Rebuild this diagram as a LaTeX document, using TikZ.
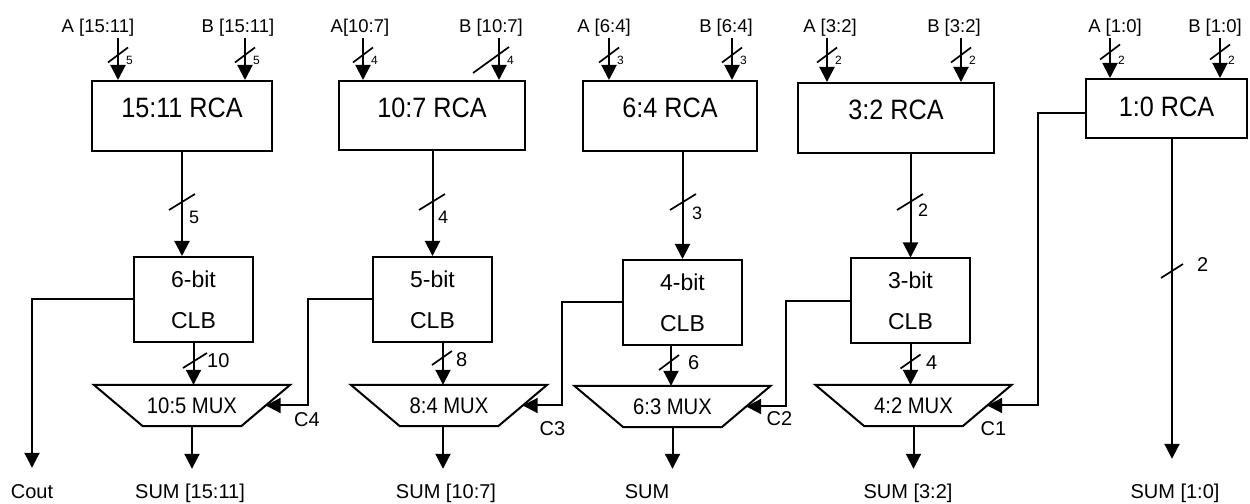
\documentclass[tikz,border=0pt]{standalone}
\usepackage{fontspec}
\setmainfont{Liberation Sans}
\newfontfamily\narrowfont{Liberation Sans}[FakeStretch=0.9]
\usetikzlibrary{arrows.meta, calc, positioning}

\tikzset{
  wire/.style={line width=2bp},
  arr/.style={wire, -{Triangle[length=15bp, width=15bp]}},
  rcabox/.style={draw, line width=2bp, inner sep=0pt, text height=20bp, text depth=16bp,
                 font=\narrowfont\fontsize{28bp}{30bp}\selectfont},
  clbbox/.style={draw, line width=2bp, inner sep=0pt, align=center,
                 minimum width=119bp, minimum height=85bp,
                 font=\fontsize{23bp}{41bp}\selectfont},
  muxbody/.style={inner sep=0pt, minimum width=98bp, minimum height=41bp,
                  font=\narrowfont\fontsize{22.5bp}{24bp}\selectfont},
  lbl/.style={inner sep=0pt, text height=14bp, text depth=4bp,
              font=\fontsize{20bp}{22bp}\selectfont},
  toplbl/.style={inner sep=0pt, font=\fontsize{18.5bp}{20bp}\selectfont},
  tinylbl/.style={inner sep=0pt, anchor=west, font=\fontsize{12bp}{13bp}\selectfont},
  buslbl/.style={inner sep=0pt, anchor=west, font=\fontsize{18bp}{20bp}\selectfont},
  widelbl/.style={inner sep=0pt, anchor=west, font=\fontsize{20bp}{22bp}\selectfont},
}

\begin{document}
\begin{tikzpicture}[x=1bp, y=-1bp]
  \useasboundingbox (0,0) rectangle (1250,504);

  % Ripple carry adders
  \node[rcabox, minimum width=180bp, minimum height=70bp] (rca15) at (182,116) {15:11 RCA};
  \node[rcabox, minimum width=186bp, minimum height=69bp] (rca10) at (432,115.5) {10:7 RCA};
  \node[rcabox, minimum width=174bp, minimum height=70bp] (rca6) at (670,116) {6:4 RCA};
  \node[rcabox, minimum width=196bp, minimum height=70bp] (rca3) at (896,118) {3:2 RCA};
  \node[rcabox, minimum width=161bp, minimum height=59bp, text depth=4bp] (rca1) at (1166.5,108.5) {1:0 RCA};

  % Operand inputs
  \foreach \n/\x/\lx/\txt/\b in {la15/118/98/A [15:11]/rca15, lb15/245/238/B [15:11]/rca15,
                                 la10/363/360/A[10:7]/rca10, lb10/499/491/B [10:7]/rca10,
                                 la6/609/604/A [6:4]/rca6, lb6/732/726/B [6:4]/rca6,
                                 la3/827/830/A [3:2]/rca3, lb3/961/954/B [3:2]/rca3,
                                 la1/1110/1115/A [1:0]/rca1, lb1/1220/1215/B [1:0]/rca1} {
    \node[toplbl] (\n) at (\lx,28) {\txt};
    \coordinate (\n-s) at (\x,38);
    \draw[arr] (\n-s) -- (\n-s |- \b.north);
  }
  \foreach \n/\x/\w in {la15/118/5, lb15/245/5, la10/363/4, lb10/499/4, la6/609/3,
                        lb6/732/3, la3/827/2, lb3/961/2, la1/1110/2, lb1/1220/2}
    \node[tinylbl] (\n-w) at (\x+8,60) {\w};

  % Carry logic blocks
  \node[clbbox] (clb6) at (193.5,299.5) {6-bit\\CLB};
  \node[clbbox] (clb5) at (432.5,299.5) {5-bit\\CLB};
  \node[clbbox] (clb4) at (682.5,302.5) {4-bit\\CLB};
  \node[clbbox] (clb3) at (910.5,301) {3-bit\\CLB};

  \draw[arr] (rca15.south) -- (rca15.south |- clb6.north);
  \draw[arr] (clb5.north |- rca10.south) -- (clb5.north);
  \draw[arr] (clb4.north |- rca6.south) -- (clb4.north);
  \draw[arr] (clb3.north |- rca3.south) -- (clb3.north);
  \node[buslbl] (w15) at (189,217) {5};
  \node[buslbl] (w10) at (438,217) {4};
  \node[buslbl] (w6) at (692,213) {3};
  \node[buslbl] (w3) at (918,210) {2};

  % Multiplexers
  \foreach \n/\x/\y/\txt in {10/192/405.5/10:5 MUX, 8/449/405.5/8:4 MUX,
                             6/672.5/406.5/6:3 MUX, 4/913.5/405.5/4:2 MUX} {
    \node[muxbody] (mux\n) at (\x,\y) {\txt};
    \draw[wire] (mux\n.south west) -- (mux\n.south east) -- ([xshift=49bp]mux\n.north east)
      -- ([xshift=-49bp]mux\n.north west) -- cycle;
    \coordinate (mux\n-in) at ([xshift=24.5bp]mux\n.east);
  }

  \draw[arr] (clb6.south) -- (clb6.south |- mux10.north);
  \draw[arr] ([xshift=10.5bp]clb5.south) -- ([xshift=10.5bp]clb5.south |- mux8.north);
  \draw[arr] ([xshift=-11.5bp]clb4.south) -- ([xshift=-11.5bp]clb4.south |- mux6.north);
  \draw[arr] (clb3.south) -- (clb3.south |- mux4.north);
  \node[widelbl] (m10) at (207,360.5) {10};
  \node[widelbl] (m8) at (456,360) {8};
  \node[widelbl] (m6) at (688,362.5) {6};
  \node[widelbl] (m4) at (926,362.5) {4};

  % Carry selects
  \draw[arr] (clb5.west) -- ++(-64,0) |- (mux10-in);
  \draw[arr] (clb4.west) -- ++(-60,0) |- (mux8-in);
  \draw[arr] (clb3.west) -- ++(-64,0) |- (mux6-in);
  \draw[arr] ([yshift=-4.5bp]rca1.west) -- ++(-47,0) |- (mux4-in);
  \node[lbl] (c4) at (307,421) {C4};
  \node[lbl] (c3) at (552.5,430) {C3};
  \node[lbl] (c2) at (779.5,420.5) {C2};
  \node[lbl] (c1) at (993.5,430) {C1};

  % Outputs
  \node[lbl] (cout) at (32,493) {Cout};
  \node[lbl] (sum15) at (190,493) {SUM [15:11]};
  \node[lbl] (sum10) at (446,493) {SUM [10:7]};
  \node[lbl] (sum6) at (647,493) {SUM};
  \node[lbl] (sum3) at (908,493) {SUM [3:2]};
  \node[lbl] (sum1) at (1175,493) {SUM [1:0]};

  \draw[arr, shorten >=16bp] (clb6.west) -| (cout.north);
  \draw[arr, shorten >=15bp] (mux10.south) -- (mux10.south |- sum15.north);
  \draw[arr, shorten >=15bp] ([xshift=-6bp]mux8.south) -- ([xshift=-6bp]mux8.south |- sum10.north);
  \draw[arr, shorten >=15bp] (mux6.south) -- (mux6.south |- sum6.north);
  \draw[arr, shorten >=15bp] (mux4.south) -- (mux4.south |- sum3.north);
  \draw[arr, shorten >=25bp] ([xshift=5.5bp]rca1.south) -- ([xshift=5.5bp]rca1.south |- sum1.north);
  \node[widelbl] (w1) at (1197,265) {2};

  % Bus width marks
  \foreach \x/\y/\dx/\dy in {118/55/10/7.5, 245/55/10/7.5, 363/55/10/7.5, 491/60/18/13,
                             609/55/10/7.5, 732/55/10/7.5, 827/55/10/7.5, 961/55/10/7.5,
                             1110/52/10/7.5, 1220/52/10/7.5,
                             182/202/13/8, 432/202/13/8, 683/202/13/8, 910/202/13/8,
                             195/360.5/12/7.5, 442/358/10/7, 669/362.5/10/7.5, 910.5/361.5/10/7,
                             1172/271/11/7}
    \draw[line width=1.7bp] (\x,\y) +(-\dx,\dy) -- +(\dx,-\dy);
\end{tikzpicture}
\end{document}
